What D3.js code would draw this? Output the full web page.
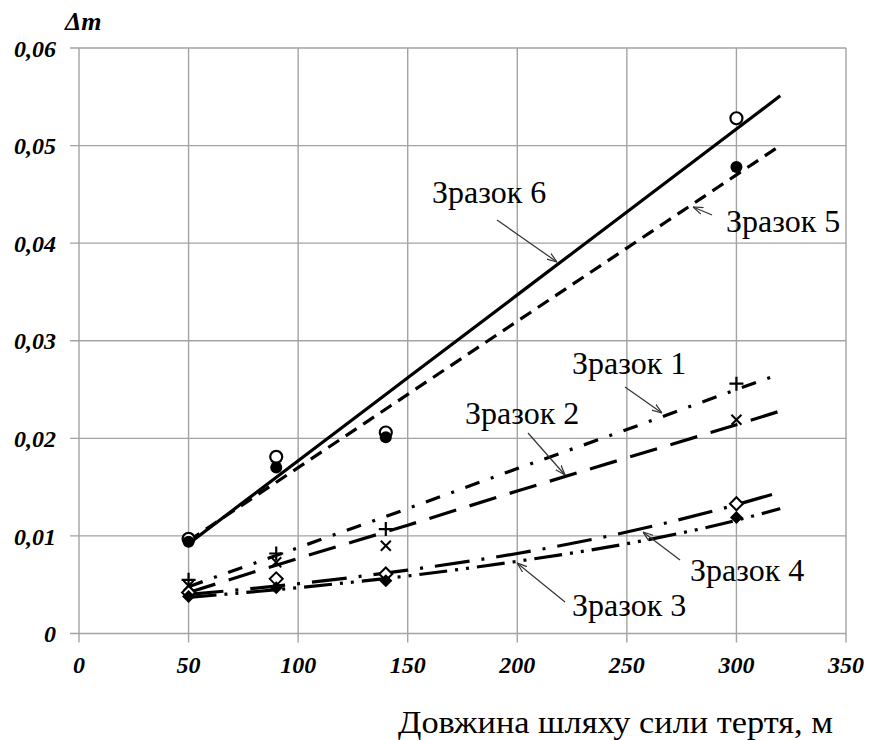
<!DOCTYPE html>
<html>
<head>
<meta charset="utf-8">
<script src="https://cdn.jsdelivr.net/npm/d3@7"></script>
<style>
  html, body { margin: 0; padding: 0; background: #fff; }
  svg { display: block; }
</style>
</head>
<body>
<svg id="chart" width="872" height="740"></svg>
<script>
// ---- data ----
const xTicks = [0, 50, 100, 150, 200, 250, 300, 350];
const yTicks = [0, 0.01, 0.02, 0.03, 0.04, 0.05, 0.06];
const yTickLabels = ["0", "0,01", "0,02", "0,03", "0,04", "0,05", "0,06"];
const pathLengths = [50, 90, 140, 300];

const sample1 = [0.0055, 0.0082, 0.0107, 0.0256];
const sample2 = [0.0049, 0.0073, 0.0090, 0.0219];
const sample3 = [0.0038, 0.0047, 0.0054, 0.0119];
const sample4 = [0.0042, 0.0056, 0.0061, 0.0133];
const sample5 = [0.0094, 0.0170, 0.0201, 0.0478];
const sample6 = [0.0097, 0.0181, 0.0206, 0.0528];

// trend lines at these path lengths
const trendX = [50, 100, 150, 200, 250, 300, 320];
const trend1 = [0.0048, 0.0088, 0.0128, 0.0169, 0.0209, 0.0250, 0.0266];
const trend2 = [0.0042, 0.0077, 0.0111, 0.0146, 0.0180, 0.0214, 0.0228];
const trend3 = [0.0037, 0.0047, 0.0059, 0.0074, 0.0092, 0.0116, 0.0128];
const trend4 = [0.0040, 0.0051, 0.0065, 0.0082, 0.0104, 0.0132, 0.0145];
const trend5 = [0.0095, 0.0170, 0.0245, 0.0320, 0.0395, 0.0470, 0.0500];
const trend6 = [0.0092, 0.0177, 0.0262, 0.0347, 0.0432, 0.0517, 0.0551];

const labels = ["Зразок 1", "Зразок 2", "Зразок 3", "Зразок 4", "Зразок 5", "Зразок 6"];
const xTitle = "Довжина шляху сили тертя, м";
const yTitle = "Δm";

// ---- layout ----
const svg = d3.select("#chart");
const x = d3.scaleLinear().domain([0, 350]).range([79, 846]);
const y = d3.scaleLinear().domain([0, 0.06]).range([633.5, 48]);
const gridColor = "#a3a3a3";

// grid
const g = svg.append("g");
g.selectAll("line.v").data(xTicks).join("line")
  .attr("x1", d => x(d)).attr("x2", d => x(d))
  .attr("y1", y(0.06)).attr("y2", y(0) + 9)
  .attr("stroke", gridColor).attr("stroke-width", 1.4);
g.selectAll("line.h").data(yTicks).join("line")
  .attr("x1", x(0) - 9).attr("x2", x(350))
  .attr("y1", d => y(d)).attr("y2", d => y(d))
  .attr("stroke", gridColor).attr("stroke-width", 1.4);

// tick labels
const tickFont = "'Liberation Serif', 'Times New Roman', serif";
g.selectAll("text.yt").data(yTicks).join("text")
  .attr("x", 56).attr("y", d => y(d)).attr("dy", "0.36em")
  .attr("text-anchor", "end")
  .attr("font-family", tickFont).attr("font-weight", "bold").attr("font-style", "italic")
  .attr("font-size", 24).attr("fill", "#000")
  .text((d, i) => yTickLabels[i]);
g.selectAll("text.xt").data(xTicks).join("text")
  .attr("x", d => x(d)).attr("y", 673)
  .attr("text-anchor", "middle")
  .attr("font-family", tickFont).attr("font-weight", "bold").attr("font-style", "italic")
  .attr("font-size", 24).attr("fill", "#000")
  .text(d => d);

svg.append("text").attr("x", 65).attr("y", 30)
  .attr("font-family", tickFont).attr("font-weight", "bold").attr("font-style", "italic")
  .attr("font-size", 26).text(yTitle);
svg.append("text").attr("x", 398).attr("y", 733)
  .attr("font-family", tickFont).attr("font-size", 32)
  .attr("textLength", 435).attr("lengthAdjust", "spacingAndGlyphs")
  .text(xTitle);

// trend lines
const line = d3.line().x(d => x(d[0])).y(d => y(d[1])).curve(d3.curveMonotoneX);
const trends = [
  { v: trend6, dash: null },
  { v: trend5, dash: "13,8" },
  { v: trend1, dash: "15,12,3,12" },
  { v: trend2, dash: "28,14" },
  { v: trend4, dash: "35,12,3,12" },
  { v: trend3, dash: "28,8,3,8,3,8" }
];
trends.forEach(t => {
  svg.append("path")
    .attr("d", line(trendX.map((xx, i) => [xx, t.v[i]])))
    .attr("fill", "none").attr("stroke", "#000").attr("stroke-width", 3.2)
    .attr("stroke-dasharray", t.dash);
});

// markers
const pts = arr => arr.map((v, i) => [x(pathLengths[i]), y(v)]);
svg.selectAll("circle.s6").data(pts(sample6)).join("circle")
  .attr("cx", d => d[0]).attr("cy", d => d[1]).attr("r", 6)
  .attr("fill", "#fff").attr("stroke", "#000").attr("stroke-width", 2.2);
svg.selectAll("circle.s5").data(pts(sample5)).join("circle")
  .attr("cx", d => d[0]).attr("cy", d => d[1]).attr("r", 6)
  .attr("fill", "#000");
svg.selectAll("path.s1").data(pts(sample1)).join("path")
  .attr("d", d => `M${d[0]-7},${d[1]}H${d[0]+7}M${d[0]},${d[1]-7}V${d[1]+7}`)
  .attr("stroke", "#000").attr("stroke-width", 2.2).attr("fill", "none");
svg.selectAll("path.s2").data(pts(sample2)).join("path")
  .attr("d", d => `M${d[0]-5},${d[1]-5}L${d[0]+5},${d[1]+5}M${d[0]-5},${d[1]+5}L${d[0]+5},${d[1]-5}`)
  .attr("stroke", "#000").attr("stroke-width", 2).attr("fill", "none");
svg.selectAll("path.s4").data(pts(sample4)).join("path")
  .attr("d", d => `M${d[0]},${d[1]-6.5}L${d[0]+6.5},${d[1]}L${d[0]},${d[1]+6.5}L${d[0]-6.5},${d[1]}Z`)
  .attr("stroke", "#000").attr("stroke-width", 2).attr("fill", "#fff");
svg.selectAll("path.s3").data(pts(sample3)).join("path")
  .attr("d", d => `M${d[0]},${d[1]-6.5}L${d[0]+6.5},${d[1]}L${d[0]},${d[1]+6.5}L${d[0]-6.5},${d[1]}Z`)
  .attr("fill", "#000");

// arrow marker
svg.append("defs").append("marker")
  .attr("id", "arr").attr("viewBox", "0 0 10 10").attr("refX", 10).attr("refY", 5)
  .attr("markerWidth", 10).attr("markerHeight", 10).attr("markerUnits", "userSpaceOnUse")
  .attr("orient", "auto")
  .append("path").attr("d", "M0,1.5L10,5L0,8.5").attr("fill", "none")
  .attr("stroke", "#333").attr("stroke-width", 1.2);

// labels with callout arrows
const labelFont = "'Liberation Serif', 'Times New Roman', serif";
const callouts = [
  { t: labels[5], tx: 432, ty: 203, a: [497, 220, 557, 262] },
  { t: labels[4], tx: 726, ty: 232, a: [712, 215, 693, 207] },
  { t: labels[0], tx: 572, ty: 374, a: [625, 387, 662, 413] },
  { t: labels[1], tx: 465, ty: 424, a: [528, 433, 565, 475] },
  { t: labels[3], tx: 690, ty: 581, a: [680, 560, 643, 532] },
  { t: labels[2], tx: 572, ty: 616, a: [565, 602, 517, 563] }
];
callouts.forEach(c => {
  svg.append("line").attr("x1", c.a[0]).attr("y1", c.a[1]).attr("x2", c.a[2]).attr("y2", c.a[3])
    .attr("stroke", "#333").attr("stroke-width", 1.2).attr("marker-end", "url(#arr)");
  svg.append("text").attr("x", c.tx).attr("y", c.ty)
    .attr("font-family", labelFont).attr("font-size", 32).attr("fill", "#000").text(c.t);
});
</script>
</body>
</html>
